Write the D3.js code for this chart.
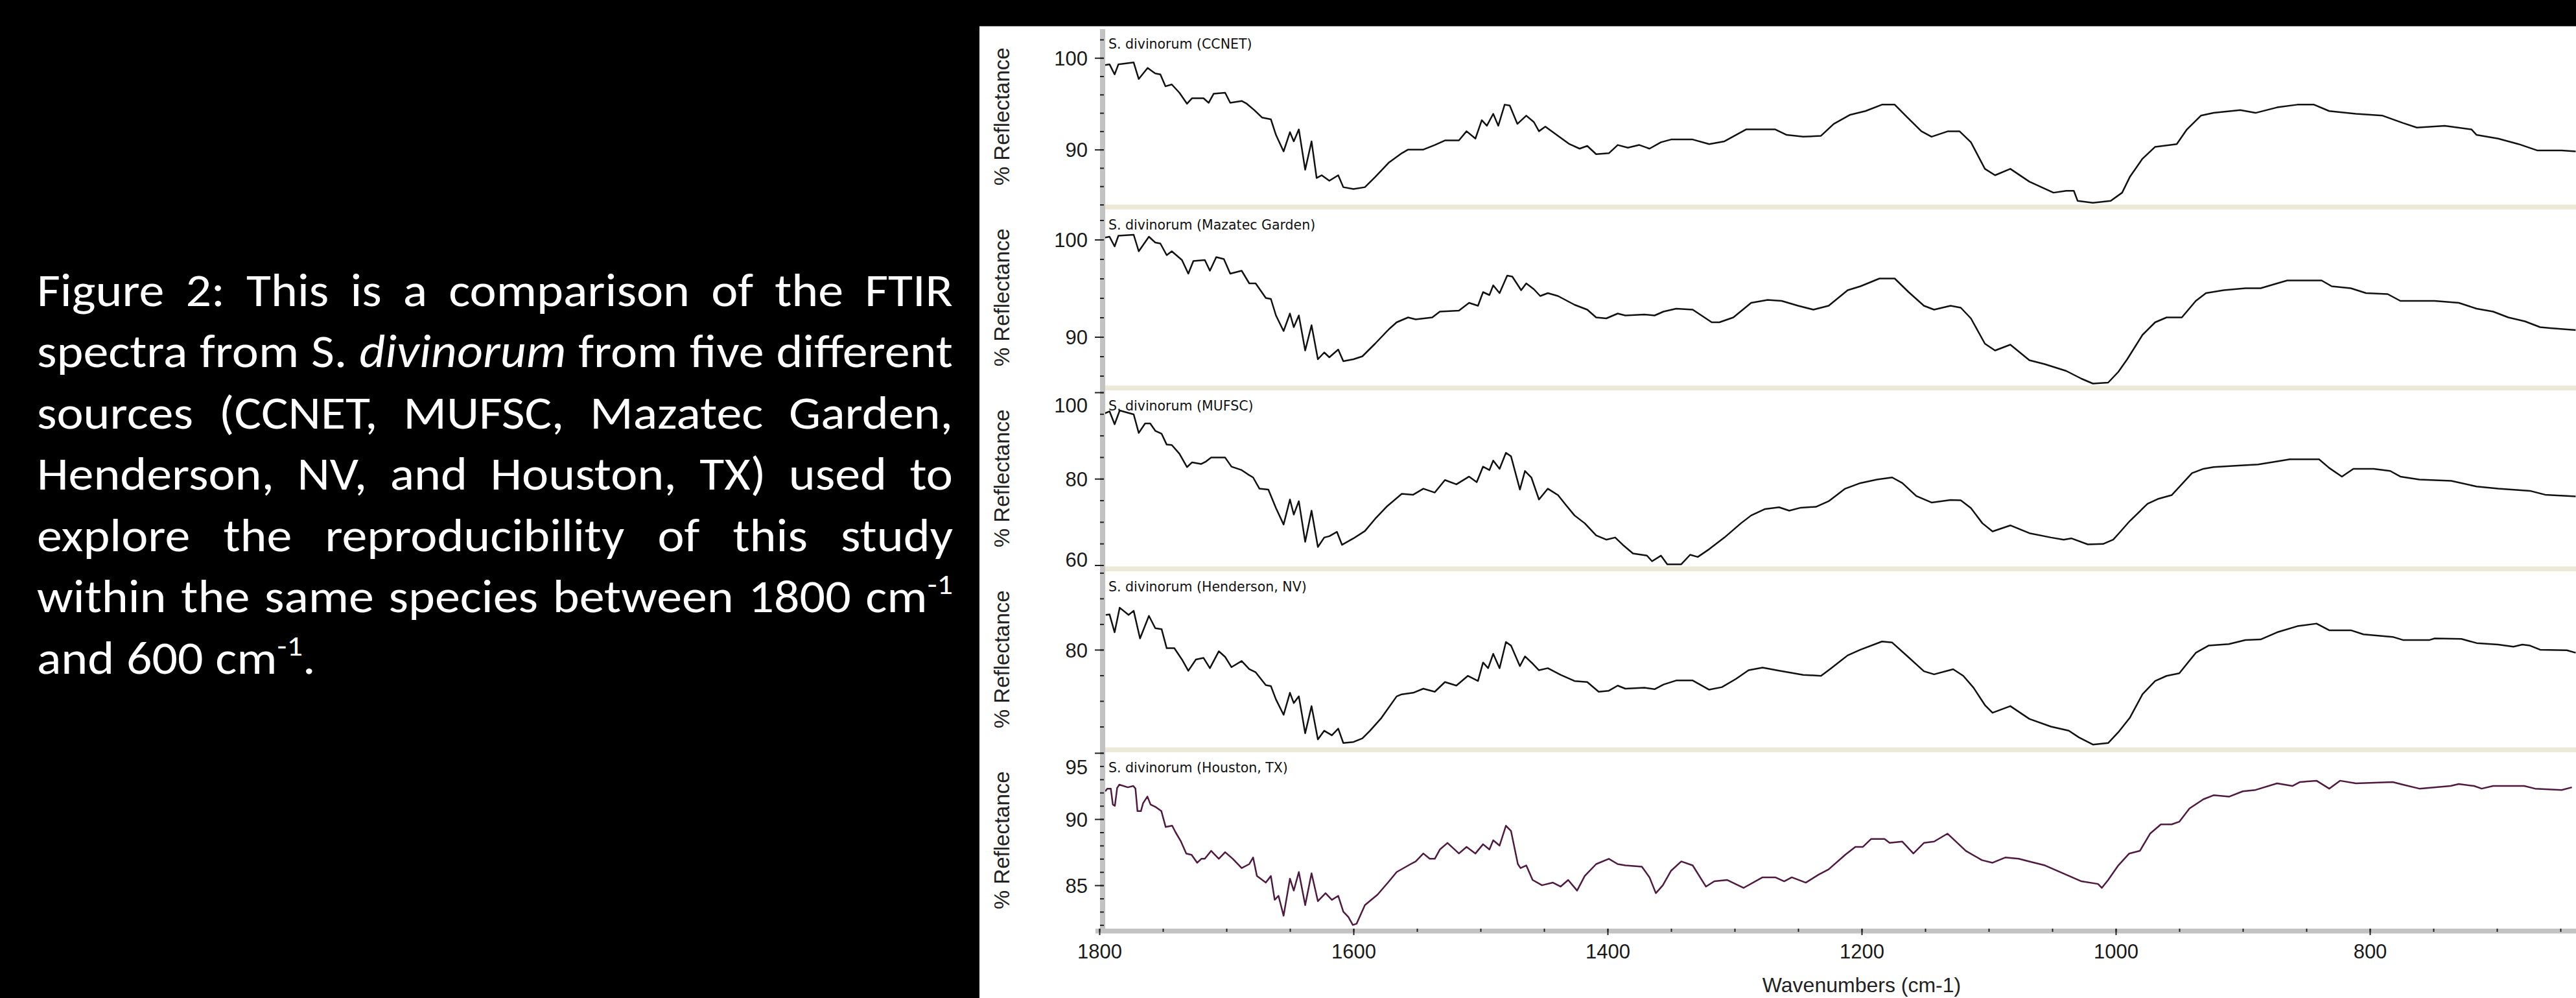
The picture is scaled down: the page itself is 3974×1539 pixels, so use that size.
<!DOCTYPE html>
<html><head><meta charset="utf-8">
<script src="https://cdn.jsdelivr.net/npm/d3@7"></script>
<style>html,body{margin:0;padding:0;background:#000;} svg{display:block;}</style>
</head><body>
<svg id="c" width="3974" height="1539"></svg>
<script>
// ---------------- DATA ----------------
const captionLines = [
  "Figure 2:  This is a comparison of the FTIR",
  "spectra from S. _divinorum_ from five different",
  "sources (CCNET, MUFSC, Mazatec Garden,",
  "Henderson, NV, and Houston, TX) used to",
  "explore the reproducibility of this study",
  "within the same species between 1800 cm{-1}",
  "and 600 cm{-1}."
];
const seriesNames = ["S. divinorum (CCNET)", "S. divinorum (Mazatec Garden)", "S. divinorum (MUFSC)", "S. divinorum (Henderson, NV)", "S. divinorum (Houston, TX)"];
const xMajorTicks = [1800, 1600, 1400, 1200, 1000, 800];
const xMinorTicks = [1800, 1750, 1700, 1650, 1600, 1550, 1500, 1450, 1400, 1350, 1300, 1250, 1200, 1150, 1100, 1050, 1000, 950, 900, 850, 800, 750, 700, 650];
const xTitle = "Wavenumbers (cm-1)";
const yTitle = "% Reflectance";
const yDomains = [[84.0, 103.2], [85.0, 103.1], [59.7, 100.45], [60.95, 95.3], [81.75, 95.05]];
const yMinorSteps = [2, 2, 5, 5, 1];
const yMajorSteps = [10, 10, 20, 20, 5];

const ccnet = [[1796,99.2],[1792,99.3],[1788,98.2],[1785,99.3],[1773,99.5],[1769,97.7],[1762,98.9],[1756,98.3],[1752,98.2],[1748,96.9],[1743,97.1],[1737,96.2],[1731,95.0],[1727,95.6],[1718,95.6],[1714,95.1],[1710,96.1],[1701,96.2],[1697,95.1],[1688,95.3],[1684,95.0],[1678,94.3],[1672,93.5],[1665,93.3],[1661,91.6],[1655,89.8],[1650,91.9],[1647,90.9],[1643,92.2],[1638,87.8],[1633,90.9],[1629,86.9],[1625,87.2],[1619,86.6],[1612,87.2],[1608,85.9],[1600,85.7],[1591,85.9],[1583,87.0],[1572,88.6],[1562,89.6],[1557,90.0],[1545,90.0],[1536,90.5],[1528,91.0],[1517,91.0],[1511,92.0],[1504,91.2],[1499,93.2],[1495,92.6],[1490,93.9],[1486,92.6],[1481,94.9],[1477,94.8],[1471,92.8],[1464,93.7],[1458,93.0],[1454,92.0],[1449,92.5],[1439,91.5],[1430,90.6],[1422,90.1],[1416,90.4],[1409,89.5],[1399,89.6],[1392,90.5],[1384,90.2],[1375,90.5],[1367,90.1],[1358,90.8],[1350,91.1],[1333,91.1],[1320,90.6],[1308,90.9],[1291,92.2],[1268,92.2],[1259,91.6],[1246,91.4],[1232,91.5],[1222,92.8],[1209,93.8],[1197,94.2],[1184,94.9],[1174,94.9],[1164,93.5],[1153,92.0],[1145,91.4],[1132,92.0],[1123,92.0],[1114,90.8],[1103,87.9],[1095,87.2],[1083,87.9],[1068,86.5],[1049,85.3],[1039,85.5],[1033,85.5],[1030,84.4],[1018,84.2],[1004,84.4],[995,85.3],[989,87.0],[979,89.0],[969,90.3],[952,90.6],[944,92.2],[933,93.7],[923,94.0],[902,94.3],[890,94.0],[873,94.6],[857,94.9],[844,94.9],[832,94.2],[811,93.9],[790,93.7],[774,92.9],[763,92.4],[741,92.6],[720,92.2],[716,91.6],[699,91.2],[683,90.6],[668,89.9],[649,89.9],[638,89.8]];

const mazatec = [[1796,100.2],[1792,100.3],[1788,99.3],[1785,100.4],[1773,100.5],[1769,98.8],[1761,100.3],[1756,99.7],[1752,99.6],[1747,98.4],[1743,98.8],[1735,97.9],[1730,96.5],[1726,97.8],[1717,97.9],[1713,96.8],[1708,98.2],[1702,98.0],[1697,96.5],[1688,96.8],[1682,95.5],[1677,95.5],[1669,94.0],[1665,93.9],[1661,92.2],[1655,90.6],[1650,92.4],[1647,91.0],[1643,92.2],[1638,88.6],[1633,91.2],[1628,87.7],[1623,88.4],[1619,87.9],[1612,88.7],[1608,87.5],[1600,87.7],[1593,88.0],[1583,89.3],[1572,90.8],[1566,91.5],[1557,92.0],[1551,91.8],[1538,92.0],[1532,92.6],[1517,92.7],[1509,93.5],[1502,93.2],[1498,94.6],[1493,94.3],[1490,95.3],[1485,94.5],[1479,96.3],[1475,96.2],[1468,94.8],[1464,95.5],[1458,94.9],[1453,94.2],[1447,94.5],[1439,94.2],[1426,93.3],[1416,92.8],[1409,92.0],[1401,91.9],[1392,92.4],[1386,92.2],[1371,92.3],[1363,92.2],[1356,92.6],[1346,92.9],[1333,92.8],[1318,91.5],[1312,91.5],[1301,92.0],[1287,93.5],[1274,93.8],[1263,93.7],[1250,93.2],[1238,92.8],[1226,93.2],[1211,94.8],[1201,95.2],[1186,96.0],[1174,96.0],[1163,94.6],[1151,93.2],[1143,92.8],[1130,93.2],[1122,93.0],[1114,91.9],[1103,89.3],[1095,88.6],[1083,89.2],[1068,87.6],[1056,87.2],[1039,86.5],[1027,85.7],[1018,85.2],[1006,85.3],[998,86.4],[991,87.7],[979,90.2],[969,91.5],[960,92.0],[948,92.0],[937,93.7],[929,94.5],[915,94.8],[898,95.0],[886,95.0],[873,95.5],[865,95.8],[838,95.8],[830,95.2],[815,95.0],[803,94.5],[786,94.4],[776,93.7],[749,93.7],[730,93.5],[716,92.9],[703,92.6],[691,92.0],[678,91.6],[666,91.0],[658,90.9],[638,90.7]];

const mufsc = [[1796,95.1],[1792,95.6],[1788,92.6],[1784,95.8],[1773,94.9],[1769,90.6],[1764,92.8],[1760,92.8],[1756,91.1],[1751,90.4],[1747,87.9],[1743,87.8],[1737,85.8],[1731,82.7],[1727,83.8],[1720,83.4],[1716,84.0],[1712,84.9],[1701,84.9],[1696,82.8],[1688,82.0],[1683,81.0],[1679,80.3],[1674,77.7],[1667,77.5],[1661,73.2],[1655,69.4],[1650,75.2],[1647,71.7],[1643,74.8],[1638,65.4],[1633,72.6],[1628,64.2],[1623,66.4],[1619,66.7],[1613,67.7],[1609,64.7],[1600,66.2],[1591,67.9],[1583,70.7],[1574,73.5],[1562,76.5],[1553,76.3],[1545,77.7],[1536,76.8],[1528,79.7],[1519,78.7],[1509,80.5],[1503,79.2],[1498,82.8],[1493,82.0],[1490,84.2],[1485,82.3],[1480,86.0],[1476,85.2],[1469,77.5],[1465,81.8],[1460,80.3],[1454,75.2],[1447,77.7],[1439,76.2],[1433,74.0],[1426,71.5],[1418,69.7],[1409,66.9],[1401,65.9],[1394,66.4],[1388,64.7],[1380,62.7],[1369,62.2],[1365,60.9],[1358,62.2],[1353,60.2],[1342,60.2],[1335,62.4],[1329,61.9],[1320,63.7],[1308,66.4],[1295,69.7],[1287,71.5],[1276,73.0],[1265,73.4],[1257,72.6],[1248,73.3],[1236,73.5],[1226,74.8],[1213,77.7],[1201,79.0],[1188,79.8],[1176,80.3],[1168,79.0],[1157,76.0],[1145,74.5],[1130,75.1],[1122,75.0],[1114,73.2],[1105,69.7],[1097,67.8],[1083,69.2],[1068,67.4],[1051,66.4],[1041,65.9],[1035,66.2],[1022,64.8],[1010,64.9],[1002,65.9],[998,67.2],[989,70.2],[975,74.2],[967,75.3],[956,76.2],[940,81.3],[931,82.3],[923,82.7],[906,83.0],[888,83.3],[873,84.0],[863,84.5],[840,84.5],[832,82.5],[822,80.5],[813,82.3],[797,82.3],[784,81.8],[776,80.5],[761,79.8],[736,79.5],[716,78.2],[699,77.7],[674,77.2],[662,76.3],[638,75.9]];

const henderson = [[1795,86.8],[1792,86.9],[1788,83.4],[1784,88.2],[1777,86.8],[1773,87.6],[1768,82.2],[1761,86.6],[1756,84.2],[1751,84.0],[1747,80.3],[1741,80.3],[1735,78.1],[1730,75.9],[1724,78.1],[1718,78.4],[1713,76.4],[1706,79.7],[1701,78.6],[1696,76.6],[1688,77.8],[1682,76.2],[1677,75.6],[1669,73.1],[1665,72.9],[1661,70.3],[1655,67.3],[1650,71.6],[1647,69.6],[1643,70.9],[1638,63.7],[1633,69.0],[1628,62.5],[1623,64.2],[1617,63.3],[1612,64.6],[1608,61.8],[1600,62.0],[1593,62.7],[1587,64.2],[1578,66.7],[1566,70.9],[1562,71.3],[1553,71.6],[1545,72.4],[1536,71.8],[1528,73.7],[1519,73.0],[1510,74.9],[1502,73.9],[1498,77.5],[1494,76.4],[1490,79.2],[1485,76.4],[1480,81.5],[1476,80.8],[1469,76.8],[1465,78.7],[1459,77.3],[1454,76.0],[1447,76.4],[1437,75.1],[1426,73.9],[1416,73.7],[1407,71.8],[1399,72.0],[1392,73.0],[1386,72.4],[1371,72.6],[1363,72.3],[1356,73.2],[1346,74.0],[1333,74.0],[1320,72.2],[1310,72.7],[1299,74.3],[1289,76.0],[1278,76.5],[1265,75.9],[1246,75.1],[1232,74.9],[1224,76.4],[1211,78.9],[1201,80.0],[1184,81.6],[1176,81.4],[1163,78.5],[1151,75.8],[1143,75.2],[1128,76.2],[1120,74.9],[1112,72.6],[1103,69.2],[1097,67.7],[1083,69.0],[1068,66.5],[1051,65.0],[1037,64.2],[1029,62.9],[1018,61.5],[1006,61.8],[998,63.9],[989,66.7],[979,71.3],[969,73.9],[960,74.9],[950,75.4],[937,79.4],[927,80.8],[911,81.1],[898,81.9],[886,82.0],[873,83.4],[857,84.6],[842,85.1],[832,83.8],[815,83.8],[805,83.0],[782,82.5],[774,81.9],[753,81.9],[749,82.2],[728,82.1],[716,81.3],[699,81.0],[687,80.6],[680,81.0],[674,80.8],[666,80.0],[645,79.9],[638,79.4]];

const houston = [[1795.4,92.1],[1793.7,92.3],[1791,92.3],[1789.4,91.1],[1787.8,91.0],[1786,92.35],[1784.3,92.6],[1777.6,92.4],[1773.3,92.5],[1771.6,92.3],[1770,90.6],[1767.3,90.6],[1765.6,91.2],[1762.2,91.7],[1759.7,91.1],[1755.5,90.9],[1751.2,90.6],[1747.8,89.4],[1742.7,89.5],[1740,89.0],[1736,88.35],[1731.6,87.4],[1727.4,87.3],[1723,86.7],[1719.7,87.0],[1717,87.0],[1712,87.6],[1706,87.0],[1701,87.5],[1695,87.0],[1688,86.3],[1682,86.6],[1679,87.1],[1676,85.7],[1669,85.2],[1665,85.7],[1662,83.9],[1659,84.2],[1655,82.7],[1650,85.5],[1647,84.6],[1643,86.0],[1638,83.5],[1633,85.9],[1628,83.8],[1622,84.4],[1617,83.9],[1612,84.2],[1608,83.0],[1604,82.6],[1600.5,82.0],[1597.5,82.1],[1591,83.5],[1581,84.3],[1572,85.3],[1566,86.0],[1555,86.6],[1551,86.8],[1545,87.4],[1540,87.0],[1536,87.0],[1532,87.7],[1526,88.2],[1517,87.4],[1511,87.9],[1504,87.4],[1498,88.1],[1493,87.7],[1490,88.4],[1485,88.0],[1480,89.5],[1476,89.1],[1470.6,86.6],[1468.5,86.3],[1464,86.5],[1459,85.4],[1451.6,85.0],[1443,85.2],[1437,84.9],[1431,85.4],[1424,84.6],[1418,85.7],[1409,86.6],[1399,87.0],[1392,86.6],[1386,86.5],[1373,86.4],[1367,85.6],[1362,84.4],[1356.5,85.0],[1350,86.1],[1342,86.8],[1333,86.5],[1322.6,84.9],[1316,85.3],[1306,85.4],[1293,84.8],[1278,85.6],[1268,85.6],[1261,85.3],[1255,85.6],[1244,85.2],[1234,85.8],[1226,86.2],[1213,87.3],[1205,87.9],[1199,87.9],[1192.5,88.5],[1182,88.5],[1178,88.2],[1168,88.3],[1159.3,87.4],[1151,88.2],[1143,88.3],[1132.4,88.9],[1118,87.6],[1105.4,86.9],[1097,86.7],[1087,87.1],[1076.4,87.0],[1068,86.8],[1055.7,86.5],[1039,85.8],[1027,85.3],[1014,85.1],[1011,84.8],[1006,85.4],[998,86.5],[989.4,87.4],[981,87.6],[973,88.9],[964.5,89.6],[956,89.6],[950,89.8],[942,90.8],[931,91.5],[923,91.8],[910.6,91.7],[900,92.1],[890,92.2],[873,92.7],[861,92.5],[855,92.8],[842,92.9],[832,92.3],[823.5,92.9],[811,92.7],[782,92.8],[774,92.6],[761,92.3],[736.5,92.5],[730,92.65],[718,92.5],[712,92.3],[703,92.5],[691,92.5],[678.5,92.5],[670,92.3],[649,92.2],[641,92.4]];

const seriesData = [ccnet, mazatec, mufsc, henderson, houston];

// ---------------- LAYOUT / STYLE ----------------
const W = 3974, H = 1539;
const chartL = 1511, chartT = 40;
const axisBandL = 1697, axisBandW = 8, plotL = axisBandL + axisBandW;
const pTop0 = 44, pitch = 279, pH = 271.5, sepH = 7.5;
const xAxisY = 1432;
const tickFont = "'Liberation Sans', Arial, Helvetica, sans-serif";
const labelFont = "'DejaVu Sans', Verdana, sans-serif";
const lineColors = ["#111111", "#111111", "#111111", "#111111", "#4f1a3f"];
const bandBeige = "#ECE9D8", axisGray = "#C3C3C3", tickColor = "#222";

const svg = d3.select("#c");
svg.append("rect").attr("width", W).attr("height", H).attr("fill", "#000");
svg.append("rect").attr("x", chartL).attr("y", chartT).attr("width", W - chartL).attr("height", H - chartT).attr("fill", "#fff");
svg.append("line").attr("x1", chartL).attr("x2", W).attr("y1", chartT + 0.5).attr("y2", chartT + 0.5).attr("stroke", "#8a8a8a").attr("stroke-width", 1);

const x = d3.scaleLinear().domain([1800, 600]).range([1696, 4048]);
const defs = svg.append("defs");

const lastBottom = pTop0 + 4 * pitch + pH;
svg.append("rect").attr("x", axisBandL).attr("y", pTop0 + 1).attr("width", axisBandW).attr("height", lastBottom - pTop0).attr("fill", axisGray);
svg.append("rect").attr("x", 1690).attr("y", xAxisY).attr("width", W - 1690).attr("height", 7.5).attr("fill", axisGray);

seriesData.forEach((data, i) => {
  const top = pTop0 + i * pitch, bottom = top + pH;
  const y = d3.scaleLinear().domain(yDomains[i]).range([bottom, top]);
  if (i < 4) {
    svg.append("rect").attr("x", plotL).attr("y", bottom).attr("width", W - plotL).attr("height", sepH).attr("fill", bandBeige);
  }
  defs.append("clipPath").attr("id", "clip" + i)
    .append("rect").attr("x", plotL).attr("y", top).attr("width", W - plotL).attr("height", bottom - top);
  const line = d3.line().x(d => x(d[0])).y(d => y(d[1]));
  svg.append("path").datum(data).attr("d", line)
    .attr("clip-path", `url(#clip${i})`)
    .attr("fill", "none").attr("stroke", lineColors[i]).attr("stroke-width", 2.5)
    .attr("stroke-linejoin", "round");

  const [lo, hi] = yDomains[i];
  const ms = yMinorSteps[i], Ms = yMajorSteps[i];
  const minor = d3.range(Math.ceil(lo / ms) * ms, hi + 1e-9, ms);
  const major = d3.range(Math.ceil(lo / Ms) * Ms, hi + 1e-9, Ms);

  const gMin = svg.append("g").attr("transform", `translate(${plotL - 2},0)`)
    .call(d3.axisLeft(y).tickValues(minor).tickSize(6).tickFormat(""));
  gMin.select(".domain").remove();
  gMin.selectAll("line").attr("stroke", tickColor).attr("stroke-width", 2);

  const gMaj = svg.append("g").attr("transform", `translate(${plotL - 2},0)`)
    .call(d3.axisLeft(y).tickValues(major).tickSize(14).tickPadding(11).tickFormat(d3.format("d")));
  gMaj.select(".domain").remove();
  gMaj.attr("font-size", 31).attr("font-family", tickFont);
  gMaj.selectAll("line").attr("stroke", tickColor).attr("stroke-width", 2);
  gMaj.selectAll(".tick").each(function (d) {
    const ty = y(d);
    const ly = Math.max(top + 22, Math.min(bottom - 11, ty));
    d3.select(this).select("text").attr("y", ly - ty).attr("dy", "0.36em").attr("fill", "#1a1a1a");
  });

  svg.append("text").attr("x", plotL + 5).attr("y", top + 30.5)
    .attr("font-family", labelFont).attr("font-size", 20.5).attr("fill", "#111")
    .text(seriesNames[i]);

  svg.append("text")
    .attr("transform", `translate(1545,${(top + bottom) / 2}) rotate(-90)`)
    .attr("text-anchor", "middle").attr("dy", "0.35em")
    .attr("font-family", tickFont).attr("font-size", 33).attr("fill", "#222")
    .text(yTitle);
});

// x axis
const gxMin = svg.append("g").attr("transform", `translate(0,${xAxisY})`)
  .call(d3.axisBottom(x).tickValues(xMinorTicks).tickSize(5).tickFormat(""));
gxMin.select(".domain").remove();
gxMin.selectAll("line").attr("stroke", tickColor).attr("stroke-width", 2);
const gxMaj = svg.append("g").attr("transform", `translate(0,${xAxisY})`)
  .call(d3.axisBottom(x).tickValues(xMajorTicks).tickSize(10).tickPadding(14).tickFormat(d3.format("d")));
gxMaj.select(".domain").remove();
gxMaj.attr("font-size", 31).attr("font-family", tickFont);
gxMaj.selectAll("line").attr("stroke", tickColor).attr("stroke-width", 2);
gxMaj.selectAll("text").attr("fill", "#1a1a1a");

svg.append("text").attr("x", (x(1800) + x(600)) / 2).attr("y", 1530)
  .attr("text-anchor", "middle").attr("font-family", tickFont).attr("font-size", 32).attr("fill", "#222")
  .text(xTitle);

// ---------------- CAPTION ----------------
const capFont = "Carlito, Lato, 'Open Sans', sans-serif";
const fs = 71, capLeft = 57, capRight = 1470, capBase0 = 472, capLead = 94.5;
const capG = svg.append("g");
const lineWords = captionLines.map((ln, li) => {
  const words = ln.split(" ").filter(w => w.length);
  return words.map(w => {
    const t = capG.append("text").attr("y", capBase0 + li * capLead)
      .attr("font-family", capFont).attr("font-size", fs).attr("fill", "#fff");
    let italic = false;
    if (/^_.*_$/.test(w)) { italic = true; w = w.slice(1, -1); }
    const parts = w.split(/(\{[^}]*\})/).filter(p => p.length);
    let shifted = false;
    parts.forEach(p => {
      if (p.startsWith("{")) {
        t.append("tspan").attr("font-size", fs * 0.62).attr("dy", -fs * 0.4).text(p.slice(1, -1));
        shifted = true;
      } else {
        const ts = t.append("tspan").text(p);
        if (italic) ts.attr("font-style", "italic");
        if (shifted) { ts.attr("dy", fs * 0.4); shifted = false; }
      }
    });
    return { node: t, w: t.node().getComputedTextLength() };
  });
});
const minGap = 0.24 * fs;
const availW = capRight - capLeft;
let sx = Infinity;
lineWords.forEach((ws, li) => {
  if (li === lineWords.length - 1) return;
  const sum = d3.sum(ws, d => d.w) + (ws.length - 1) * minGap;
  sx = Math.min(sx, availW / sum);
});
capG.attr("transform", `translate(${capLeft},0) scale(${sx},1)`);
lineWords.forEach((ws, li) => {
  const sum = d3.sum(ws, d => d.w);
  const last = li === lineWords.length - 1;
  const gap = last ? minGap : (availW / sx - sum) / (ws.length - 1);
  let cx = 0;
  ws.forEach(d => { d.node.attr("x", cx); cx += d.w + gap; });
});
</script>
</body></html>
